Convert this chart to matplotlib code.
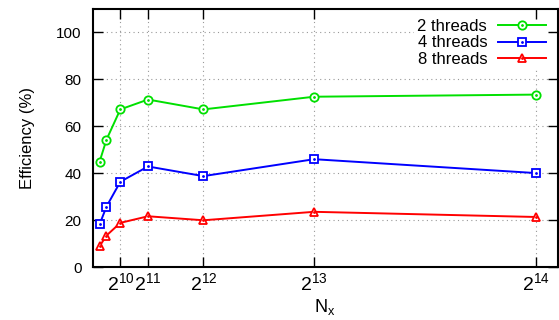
import matplotlib
matplotlib.use("Agg")
import matplotlib.pyplot as plt

# problem sizes and parallel efficiency per thread count
nx = [256, 512, 1024, 2048, 4096, 8192, 16384]
eff_2 = [44.8, 54.2, 67.1, 71.3, 67.1, 72.5, 73.4]
eff_4 = [18.1, 25.7, 36.3, 42.8, 38.7, 45.9, 40.0]
eff_8 = [8.8, 13.4, 18.8, 21.6, 19.9, 23.5, 21.3]
labels = ["2 threads", "4 threads", "8 threads"]
xticks = [1024, 2048, 4096, 8192, 16384]
xticklabels = [r"$2^{10}$", r"$2^{11}$", r"$2^{12}$", r"$2^{13}$", r"$2^{14}$"]
yticks = [0, 20, 40, 60, 80, 100]

plt.rcParams["font.family"] = ["Liberation Sans", "DejaVu Sans"]
plt.rcParams["mathtext.fontset"] = "custom"
plt.rcParams["mathtext.rm"] = "Liberation Sans"
plt.rcParams["mathtext.it"] = "Liberation Sans"
plt.rcParams["font.size"] = 12

fig = plt.figure(figsize=(5.59, 3.2), dpi=100)
ax = fig.add_axes([0.1657, 0.1656, 0.832, 0.8074])

handles = []
for ys, col, mk, lab in [(eff_2, "#00e000", "o", labels[0]),
                         (eff_4, "#0000ff", "s", labels[1]),
                         (eff_8, "#ff0000", "^", labels[2])]:
    ln, = ax.plot(nx, ys, color=col, lw=1.4, marker=mk, ms=6,
                  mfc="white", mec=col, mew=1.3, zorder=3)
    dot, = ax.plot(nx, ys, ls="none", marker=".", ms=2, color=col, zorder=4)
    handles.append((ln, dot))

ax.set_xlim(0, 17200)
ax.set_ylim(0, 110)
ax.set_xticks(xticks)
ax.set_xticklabels(xticklabels)
ax.set_yticks(yticks)
ax.tick_params(direction="in", length=7, width=1, top=True, right=True)
ax.tick_params(axis="y", labelsize=11, pad=8)
ax.tick_params(axis="x", labelsize=14, pad=4)
for sp in ax.spines.values():
    sp.set_linewidth(1.5)

# dotted grid drawn by hand so the key can cover it but not the ticks
for x in xticks:
    ax.axvline(x, ls=(0, (1, 3)), color="#999999", lw=0.8, zorder=0.5)
for y in yticks[1:]:
    ax.axhline(y, ls=(0, (1, 3)), color="#999999", lw=0.8, zorder=0.5)

ax.set_ylabel("Efficiency (%)", fontsize=12, labelpad=15)
ax.set_xlabel(r"N$_\mathregular{x}$", fontsize=13, labelpad=2)

leg = ax.legend(handles, labels, loc="upper right",
                bbox_to_anchor=(0.983, 0.974), markerfirst=False,
                frameon=True, framealpha=1, edgecolor="none", fancybox=False,
                handlelength=2.9, handletextpad=0.66, labelspacing=0.1,
                borderpad=0.2, borderaxespad=0.0, fontsize=12)
leg.set_zorder(1)

fig.savefig("out.png", dpi=100)
